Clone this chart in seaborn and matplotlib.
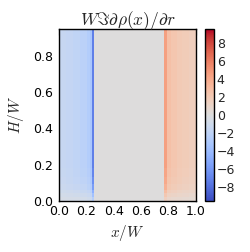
import numpy as np
import matplotlib
matplotlib.use("Agg")
import matplotlib.pyplot as plt
import seaborn as sns

# column edges (x/W) and the value read in each column
x_edges = [0.0, 0.05, 0.10, 0.15, 0.20, 0.225, 0.243, 0.257, 0.77, 0.79, 0.82, 0.86, 0.90, 0.95, 1.0]
col_vals = [-1.5, -1.7, -1.9, -2.2, -2.6, -3.2, -7.2, 0.0, 4.4, 2.6, 2.3, 2.0, 1.8, 1.6]

# row edges (H/W) and how strong the field is in each row
y_edges = [0.0, 0.02, 0.04, 0.06, 0.09, 0.13, 0.18, 0.95]
row_gain = [0.35, 0.5, 0.65, 0.8, 0.9, 0.96, 1.0]

cbar_ticks = [-8, -6, -4, -2, 0, 2, 4, 6, 8]
vlim = 9.5

sns.set_style("white")
plt.rcParams["mathtext.fontset"] = "cm"
plt.rcParams["font.family"] = ["DejaVu Sans"]

field = np.outer(row_gain, col_vals)

fig = plt.figure(figsize=(2.5, 2.52), dpi=100)
ax = fig.add_axes([0.237, 0.204, 0.546, 0.680])
cax = fig.add_axes([0.82, 0.204, 0.036, 0.680])

cmap = sns.color_palette("coolwarm", as_cmap=True)
mesh = ax.pcolormesh(x_edges, y_edges, field, cmap=cmap, vmin=-vlim, vmax=vlim,
                     shading="flat", rasterized=True)
ax.set_xlim(0, 1)
ax.set_ylim(0, 0.95)
ax.set_xticks([0.0, 0.2, 0.4, 0.6, 0.8, 1.0])
ax.set_yticks([0.0, 0.2, 0.4, 0.6, 0.8])
ax.tick_params(direction="in", length=4, width=0.8, top=True, right=True,
               labelsize=9, colors="black")
ax.tick_params(axis="x", pad=3)
ax.tick_params(axis="y", pad=4.5)
for s in ax.spines.values():
    s.set_color("black")
    s.set_linewidth(1.0)

ax.set_title(r"$W\Im\partial\rho(x)/\partial r$", fontsize=12.5, pad=3)
ax.set_xlabel(r"$x/W$", fontsize=11, labelpad=4)
ax.set_ylabel(r"$H/W$", fontsize=11, labelpad=5)

cb = fig.colorbar(mesh, cax=cax, ticks=cbar_ticks)
cb.ax.tick_params(direction="in", length=4, width=0.8, labelsize=9, pad=2)
cb.outline.set_color("black")
cb.outline.set_linewidth(1.0)

fig.savefig("out.png", dpi=100)
